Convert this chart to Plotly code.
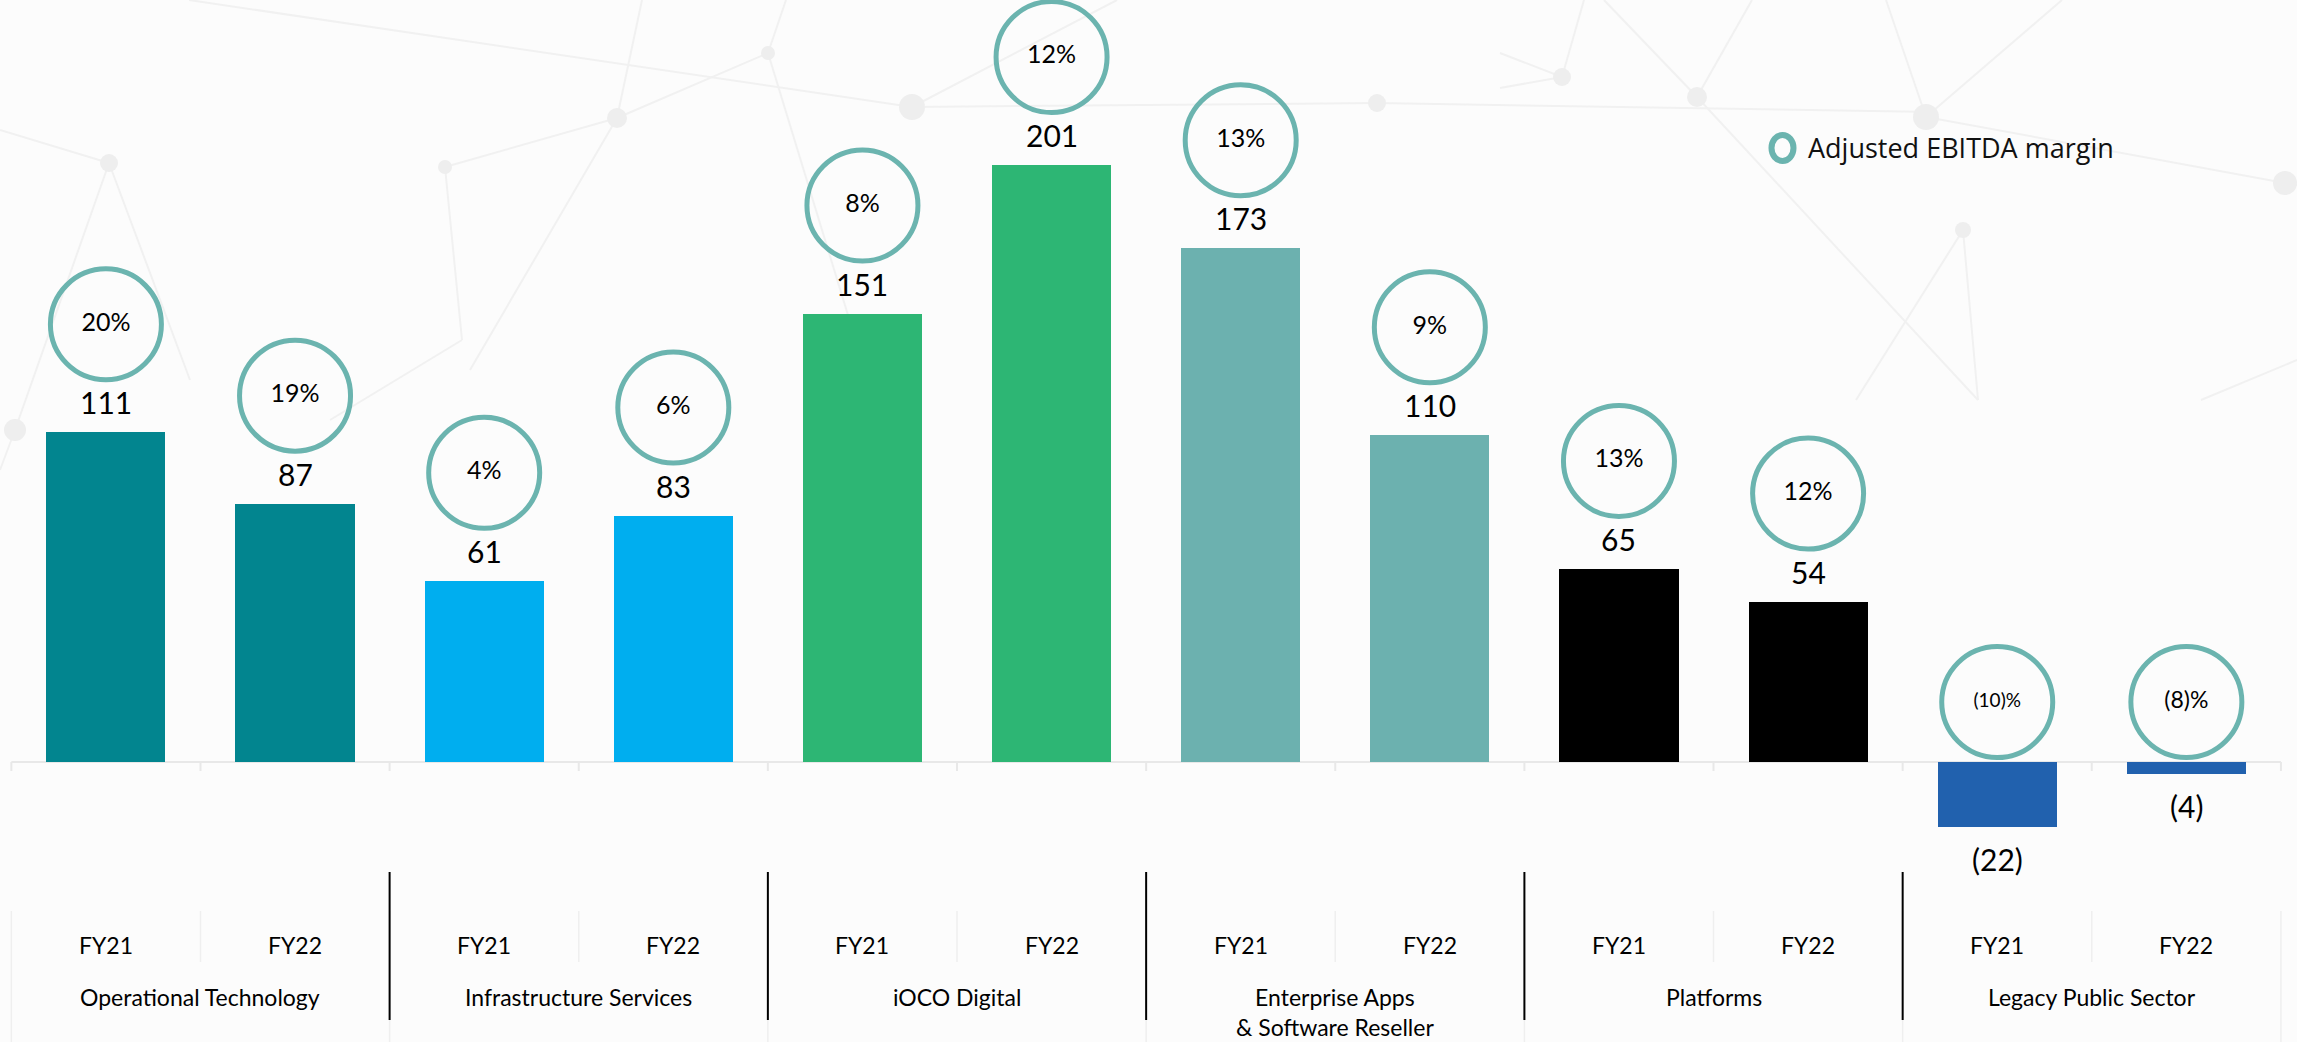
import plotly.graph_objects as go

# ---- data ----
segments = [
    "Operational Technology",
    "Infrastructure Services",
    "iOCO Digital",
    "Enterprise Apps<br>& Software Reseller",
    "Platforms",
    "Legacy Public Sector",
]
years = ["FY21", "FY22"] * 6
ebitda = [111, 87, 61, 83, 151, 201, 173, 110, 65, 54, -22, -4]
margin_pct = [20, 19, 4, 6, 8, 12, 13, 9, 13, 12, -10, -8]
segment_colors = ["#02858F", "#00AEEF", "#2DB674", "#6CB1AF", "#000000", "#2161AE"]

# ---- geometry ----
W, H = 2297, 1042
X_RANGE = [-0.56, 11.585]
Y_RANGE = [-94.3, 256.6]
PX_PER_UNIT = H / (Y_RANGE[1] - Y_RANGE[0])
TEAL = "#6BB4AF"
FONT = "Lato, 'Noto Sans', sans-serif"

idx = list(range(len(ebitda)))
bar_colors = [segment_colors[i // 2] for i in idx]


def fmt_value(v):
    return f"({abs(v)})" if v < 0 else f"{v}"


def fmt_pct(p):
    return f"({abs(p)})%" if p < 0 else f"{p}%"


def px_x(px):
    return px / W


def px_y(py):
    return 1 - py / H


pct_text = [fmt_pct(p) for p in margin_pct]
pct_size = [25 if len(t) <= 3 else (23 if len(t) == 4 else 19) for t in pct_text]
circle_y = [v + 108 / PX_PER_UNIT if v > 0 else 60 / PX_PER_UNIT for v in ebitda]

fig = go.Figure()

fig.add_trace(go.Bar(
    x=idx, y=ebitda, width=0.63,
    marker=dict(color=bar_colors, line=dict(width=0)),
    hoverinfo="skip", showlegend=False,
))

fig.add_trace(go.Scatter(
    x=idx, y=circle_y, mode="markers+text",
    marker=dict(symbol="circle", size=111, color="rgba(255,255,255,0)",
                line=dict(color=TEAL, width=5)),
    text=pct_text, textposition="middle center",
    textfont=dict(family=FONT, size=pct_size, color="#000000"),
    hoverinfo="skip", showlegend=False,
))

annotations = []
for i, v in enumerate(ebitda):
    annotations.append(dict(
        x=i, y=v, xref="x", yref="y", text=fmt_value(v), showarrow=False,
        yanchor="middle", yshift=30 if v > 0 else -32,
        font=dict(family=FONT, size=30, color="#000000"),
    ))
    annotations.append(dict(
        x=i, y=px_y(945), xref="x", yref="paper", text=years[i], showarrow=False,
        yanchor="middle", font=dict(family=FONT, size=23, color="#000000"),
    ))

for g, name in enumerate(segments):
    annotations.append(dict(
        x=2 * g + 0.5, y=px_y(981), xref="x", yref="paper", text=name,
        showarrow=False, yanchor="top",
        font=dict(family=FONT, size=23, color="#000000"),
    ))

# legend
annotations.append(dict(
    x=px_x(1806), y=px_y(147), xref="paper", yref="paper",
    text="Adjusted EBITDA margin", showarrow=False, xanchor="left", yanchor="middle",
    font=dict(family="'Open Sans', sans-serif", size=27, color="#111111"),
))

shapes = []

# faint network pattern in the background (pixel coordinates)
net_lines = [
    ((189, 0), (912, 107)), ((912, 107), (1377, 103)), ((1377, 103), (1934, 112)),
    ((0, 130), (109, 163)), ((109, 163), (15, 430)), ((109, 163), (190, 380)),
    ((445, 167), (617, 118)), ((617, 118), (768, 53)), ((642, 0), (617, 118)),
    ((617, 118), (470, 370)), ((768, 53), (786, 0)), ((768, 53), (880, 420)),
    ((445, 167), (462, 340)), ((912, 107), (1117, 0)),
    ((1500, 53), (1562, 77)), ((1500, 88), (1562, 77)), ((1584, 0), (1562, 77)),
    ((1604, 0), (1697, 97)), ((1752, 0), (1697, 97)), ((1697, 97), (1978, 400)),
    ((1926, 117), (2062, 0)), ((1926, 117), (2285, 183)), ((1926, 117), (1886, 0)),
    ((1963, 230), (1856, 400)), ((1963, 230), (1978, 400)), ((2297, 360), (2201, 400)),
    ((2285, 183), (2297, 185)), ((15, 430), (0, 470)), ((462, 340), (330, 420)),
]
for (xa, ya), (xb, yb) in net_lines:
    shapes.append(dict(type="line", xref="paper", yref="paper", layer="below",
                       x0=px_x(xa), y0=px_y(ya), x1=px_x(xb), y1=px_y(yb),
                       line=dict(color="#F1F1F1", width=2)))
net_nodes = [(109, 163, 9), (445, 167, 7), (617, 118, 10), (768, 53, 7), (912, 107, 13),
             (1377, 103, 9), (1562, 77, 9), (1697, 97, 10), (1926, 117, 13),
             (2285, 183, 12), (1963, 230, 8), (15, 430, 11)]
for nx, ny, r in net_nodes:
    shapes.append(dict(type="circle", xref="paper", yref="paper", layer="below",
                       x0=px_x(nx - r), x1=px_x(nx + r), y0=px_y(ny + r), y1=px_y(ny - r),
                       fillcolor="#EEEEEE", line=dict(width=0)))

# zero line with small ticks at slot boundaries
shapes.append(dict(type="line", xref="x", yref="y", x0=-0.5, x1=11.5, y0=0, y1=0,
                   line=dict(color="#E8E8E8", width=2), layer="below"))
tick_len = 9 / PX_PER_UNIT
for b in range(13):
    xb = b - 0.5
    shapes.append(dict(type="line", xref="x", yref="y", x0=xb, x1=xb, y0=0, y1=-tick_len,
                       line=dict(color="#E8E8E8", width=2), layer="below"))
    # light separators in the label band
    bottom = 1042 if b % 2 == 0 else 962
    shapes.append(dict(type="line", xref="x", yref="paper", x0=xb, x1=xb,
                       y0=px_y(911), y1=px_y(bottom),
                       line=dict(color="#EFEFEF", width=1.5), layer="below"))

# dark separators between segments
for b in range(1, 6):
    xb = 2 * b - 0.5
    shapes.append(dict(type="line", xref="x", yref="paper", x0=xb, x1=xb,
                       y0=px_y(872), y1=px_y(1020),
                       line=dict(color="#000000", width=2)))

# legend marker
shapes.append(dict(type="circle", xref="paper", yref="paper",
                   x0=px_x(1771.5), x1=px_x(1793.5), y0=px_y(161), y1=px_y(135),
                   line=dict(color=TEAL, width=6)))

fig.update_layout(
    width=W, height=H,
    margin=dict(l=0, r=0, t=0, b=0),
    paper_bgcolor="#FCFCFC", plot_bgcolor="rgba(0,0,0,0)",
    xaxis=dict(range=X_RANGE, visible=False, fixedrange=True),
    yaxis=dict(range=Y_RANGE, visible=False, fixedrange=True),
    annotations=annotations, shapes=shapes,
    bargap=0, showlegend=False,
)

fig.write_html("out.html")
